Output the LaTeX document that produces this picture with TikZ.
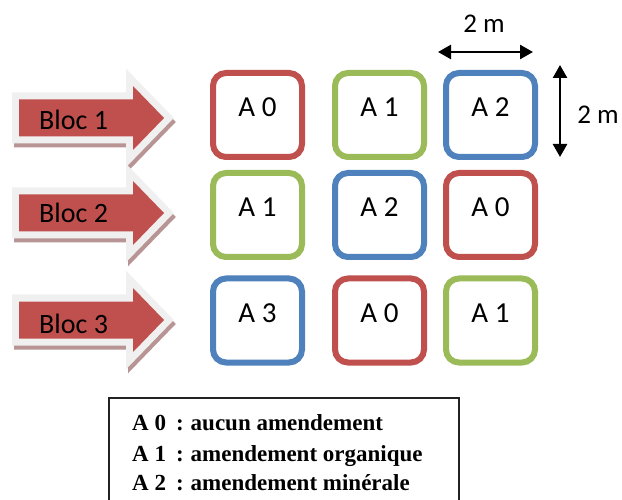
\documentclass[tikz,border=0pt]{standalone}
\usepackage{fontspec}
\setmainfont{Carlito}
\newfontfamily\legendfont{Liberation Serif}
\usetikzlibrary{arrows.meta}

\definecolor{plotred}{HTML}{C0504D}
\definecolor{plotgreen}{HTML}{9BBB59}
\definecolor{plotblue}{HTML}{4F81BD}
\definecolor{arrowrim}{HTML}{F0F0F0}
\definecolor{arrowshade}{HTML}{B89494}
\definecolor{legendline}{HTML}{222222}

\tikzset{
  plot/.style={draw=#1, line width=6pt, rounded corners=13pt,
    minimum width=89pt, minimum height=84pt, inner sep=0pt, fill=white},
  plotlabel/.style={anchor=base, inner sep=0pt, font=\fontsize{29}{34}\selectfont},
  bloclabel/.style={anchor=base west, inner sep=0pt, font=\fontsize{28}{33}\selectfont},
  dimlabel/.style={anchor=base, inner sep=0pt, font=\fontsize{27}{32}\selectfont},
  dimarrow/.style={line width=2.5pt, {Triangle[length=13pt,width=14pt]}-{Triangle[length=13pt,width=14pt]}},
  legendtext/.style={anchor=base west, inner sep=0pt,
    font=\legendfont\bfseries\fontsize{23}{27}\selectfont},
  % block arrow drawn around its own origin (centre line of the arrow):
  % shadow, light rim, then the red body on top
  blocarrow/.pic={
    \path[fill=arrowshade, draw=arrowshade, line width=14pt, miter limit=10,
      shift={(2,4)}]
      (19,-18.5) -- (133,-18.5) -- (133,-32) -- (164,0) -- (133,32)
      -- (133,18.5) -- (19,18.5) -- cycle;
    \path[fill=arrowrim, draw=arrowrim, line width=14pt, miter limit=10]
      (19,-18.5) -- (133,-18.5) -- (133,-32) -- (164,0) -- (133,32)
      -- (133,18.5) -- (19,18.5) -- cycle;
    \path[fill=plotred]
      (19,-18.5) -- (133,-18.5) -- (133,-32) -- (164,0) -- (133,32)
      -- (133,18.5) -- (19,18.5) -- cycle;
  }
}

\begin{document}
\begin{tikzpicture}[x=1pt, y=-1pt]
  \clip (0,0) rectangle (622,500);
  \fill[white] (0,0) rectangle (622,500);

  % block arrows
  \pic at (0,118) {blocarrow};
  \pic at (0,213) {blocarrow};
  \pic at (0,320) {blocarrow};
  \node[bloclabel] (bloc1) at (39,130) {Bloc 1};
  \node[bloclabel] (bloc2) at (39,223) {Bloc 2};
  \node[bloclabel] (bloc3) at (39,333) {Bloc 3};

  % plots, row 1
  \node[plot=plotred]   (p11) at (257.5,115) {};
  \node[plot=plotgreen] (p12) at (379.5,115) {};
  \node[plot=plotblue]  (p13) at (490.5,115) {};
  % plots, row 2
  \node[plot=plotgreen] (p21) at (257.5,215) {};
  \node[plot=plotblue]  (p22) at (379.5,215) {};
  \node[plot=plotred]   (p23) at (490.5,215) {};
  % plots, row 3
  \node[plot=plotblue]  (p31) at (257.5,320.5) {};
  \node[plot=plotred]   (p32) at (379.5,320.5) {};
  \node[plot=plotgreen] (p33) at (490.5,320.5) {};

  \node[plotlabel, yshift=-2pt] (t11) at (p11.center) {A 0};
  \node[plotlabel, yshift=-2pt] (t12) at (p12.center) {A 1};
  \node[plotlabel, yshift=-2pt] (t13) at (p13.center) {A 2};
  \node[plotlabel, yshift=-2pt] (t21) at (p21.center) {A 1};
  \node[plotlabel, yshift=-2pt] (t22) at (p22.center) {A 2};
  \node[plotlabel, yshift=-2pt] (t23) at (p23.center) {A 0};
  \node[plotlabel, yshift=-1.5pt] (t31) at (p31.center) {A 3};
  \node[plotlabel, yshift=-1.5pt] (t32) at (p32.center) {A 0};
  \node[plotlabel, yshift=-1.5pt] (t33) at (p33.center) {A 1};

  % plot dimensions
  \coordinate (wl) at (438,52);
  \coordinate (wr) at (533,52);
  \coordinate (ht) at (560,65);
  \coordinate (hb) at (560,157);
  \draw[dimarrow] (wl) -- (wr);
  \draw[dimarrow] (ht) -- (hb);
  \node[dimlabel] (wlab) at (484,33) {2 m};
  \node[dimlabel] (hlab) at (598,124) {2 m};

  % legend
  \draw[legendline, line width=2pt] (109,398) rectangle (459,530);
  \node[legendtext] (leg0) at (132,430) {A 0\hspace{10pt}:\hspace{7pt}aucun amendement};
  \node[legendtext] (leg1) at (132,461) {A 1\hspace{10pt}:\hspace{7pt}amendement organique};
  \node[legendtext] (leg2) at (132,490) {A 2\hspace{10pt}:\hspace{7pt}amendement minérale};
\end{tikzpicture}
\end{document}
